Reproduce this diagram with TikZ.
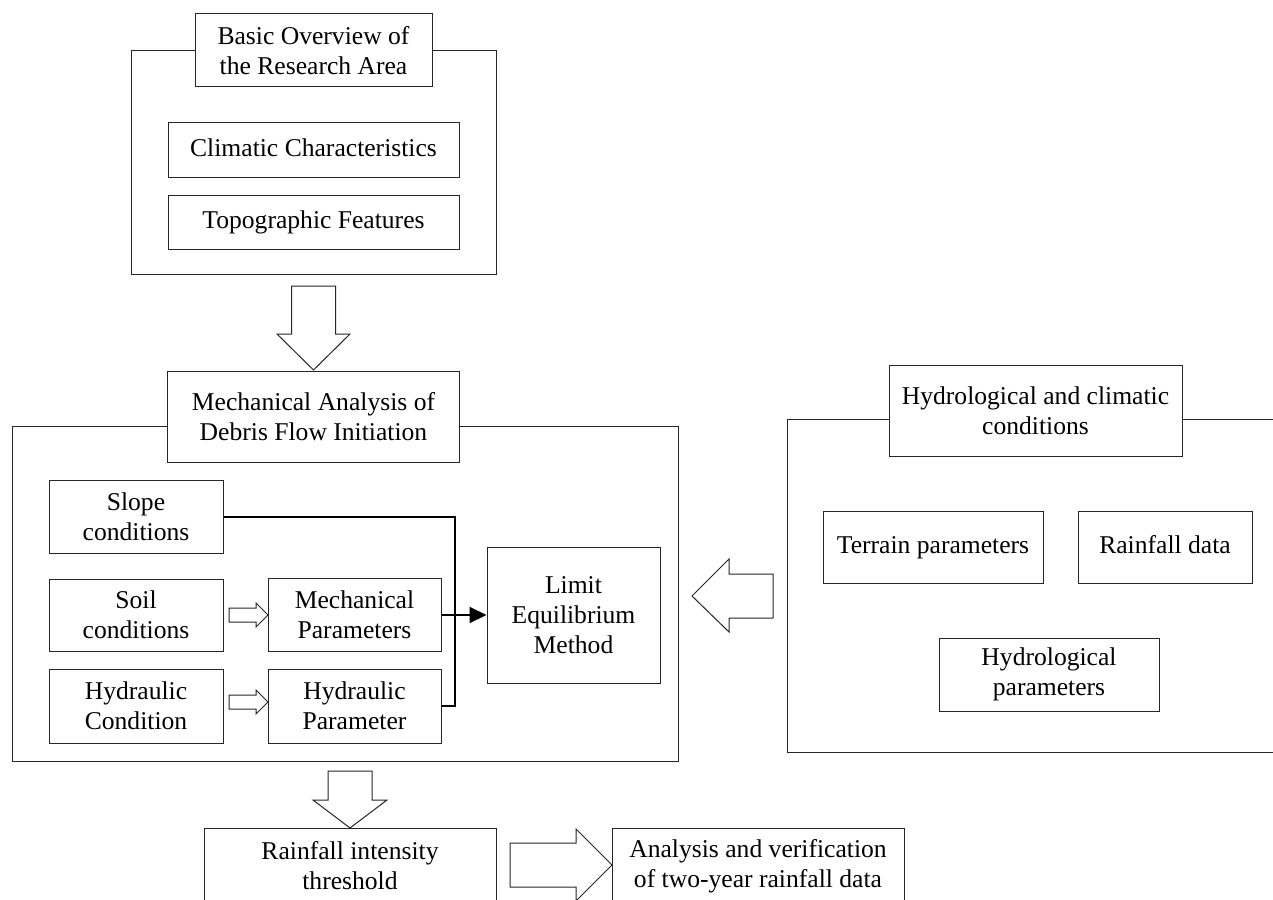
\documentclass[tikz,border=0pt]{standalone}
\usepackage{fontspec}
\setmainfont{Liberation Serif}
\usetikzlibrary{arrows.meta}
\begin{document}
\begin{tikzpicture}[x=0.5pt,y=-0.5pt,
  box/.style={draw=black!85, line width=0.5pt, fill=white, inner sep=0pt, align=center, font=\fontsize{12.8}{15}\selectfont},
  frame/.style={draw=black!85, line width=0.5pt, inner sep=0pt},
  blockarrow/.style={draw=black!85, line width=0.5pt, fill=white, line join=miter},
  conn/.style={draw=black, line width=1pt}]
\useasboundingbox (0,0) rectangle (1273,899);
\clip (0,0) rectangle (1273,899);

% frames
\node[frame, minimum width=182.5pt, minimum height=111.5pt] (basicF) at (313.5,162.5) {};
\node[frame, minimum width=333pt, minimum height=167.5pt] (mechF) at (345,593.5) {};
\draw[frame] (1290,419) -- (787,419) -- (787,752) -- (1290,752);

% titles
\node[box, minimum width=118.5pt, minimum height=36.5pt] (basicT) at (313.5,50.5) {Basic Overview of\\the Research Area};
\node[box, minimum width=146pt, minimum height=45.5pt] (mechT) at (313.5,416.5) {Mechanical Analysis of\\Debris Flow Initiation};
\node[box, minimum width=146.5pt, minimum height=45.5pt] (hydT) at (1035.5,410.5) {Hydrological and climatic\\conditions};

% top group
\node[box, minimum width=145.5pt, minimum height=27pt] (clim) at (313.5,150) {\strut Climatic Characteristics};
\node[box, minimum width=145.5pt, minimum height=27pt] (topo) at (313.5,222) {\strut Topographic Features};

% mechanical group
\node[box, minimum width=87pt, minimum height=36.5pt] (slope) at (136,516.5) {Slope\\conditions};
\node[box, minimum width=87pt, minimum height=36pt] (soil) at (136,615) {Soil\\conditions};
\node[box, minimum width=87pt, minimum height=37pt] (hydC) at (136,706) {Hydraulic\\Condition};
\node[box, minimum width=86.5pt, minimum height=36.5pt] (mechP) at (354.5,615) {Mechanical\\Parameters};
\node[box, minimum width=86.5pt, minimum height=37pt] (hydP) at (354.5,706) {Hydraulic\\Parameter};
\node[box, minimum width=86.5pt, minimum height=68pt] (limit) at (573.5,615) {Limit\\Equilibrium\\Method};

% hydrological group
\node[box, minimum width=110pt, minimum height=36pt] (terrain) at (933,547) {\strut Terrain parameters};
\node[box, minimum width=87pt, minimum height=36pt] (rainD) at (1165,547) {\strut Rainfall data};
\node[box, minimum width=110pt, minimum height=36.5pt] (hydPar) at (1049,674.5) {Hydrological\\parameters};

% bottom
\node[box, minimum width=146pt, minimum height=38pt] (rain) at (350,866) {Rainfall intensity\\threshold};
\node[box, minimum width=146pt, minimum height=38pt] (anal) at (758,866) {Analysis and verification\\of two-year rainfall data};

% connectors
\coordinate (j) at (455,615);
\draw[conn] (slope.east) -| (j) |- (hydP.east);
\draw[conn,-{Triangle[length=8.5pt,width=8pt]}] (mechP.east) -- (limit.west);

% block arrows
\draw[blockarrow] (291.5,286) -- (335.5,286) -- (335.5,334) -- (350,334) -- (313.5,370) -- (277,334) -- (291.5,334) -- cycle;
\draw[blockarrow] (328,771) -- (372,771) -- (372,800) -- (387,800) -- (350,828) -- (313,800) -- (328,800) -- cycle;
\draw[blockarrow] (510,843) -- (576,843) -- (576,829) -- (612,865) -- (576,901) -- (576,887) -- (510,887) -- cycle;
\draw[blockarrow] (773,574) -- (729,574) -- (729,559) -- (692,596) -- (729,632) -- (729,618) -- (773,618) -- cycle;
\draw[blockarrow] (229,608) -- (256,608) -- (256,603) -- (268,615) -- (256,627) -- (256,622) -- (229,622) -- cycle;
\draw[blockarrow] (229,695) -- (256,695) -- (256,690) -- (268,702) -- (256,714) -- (256,709) -- (229,709) -- cycle;
\end{tikzpicture}
\end{document}
